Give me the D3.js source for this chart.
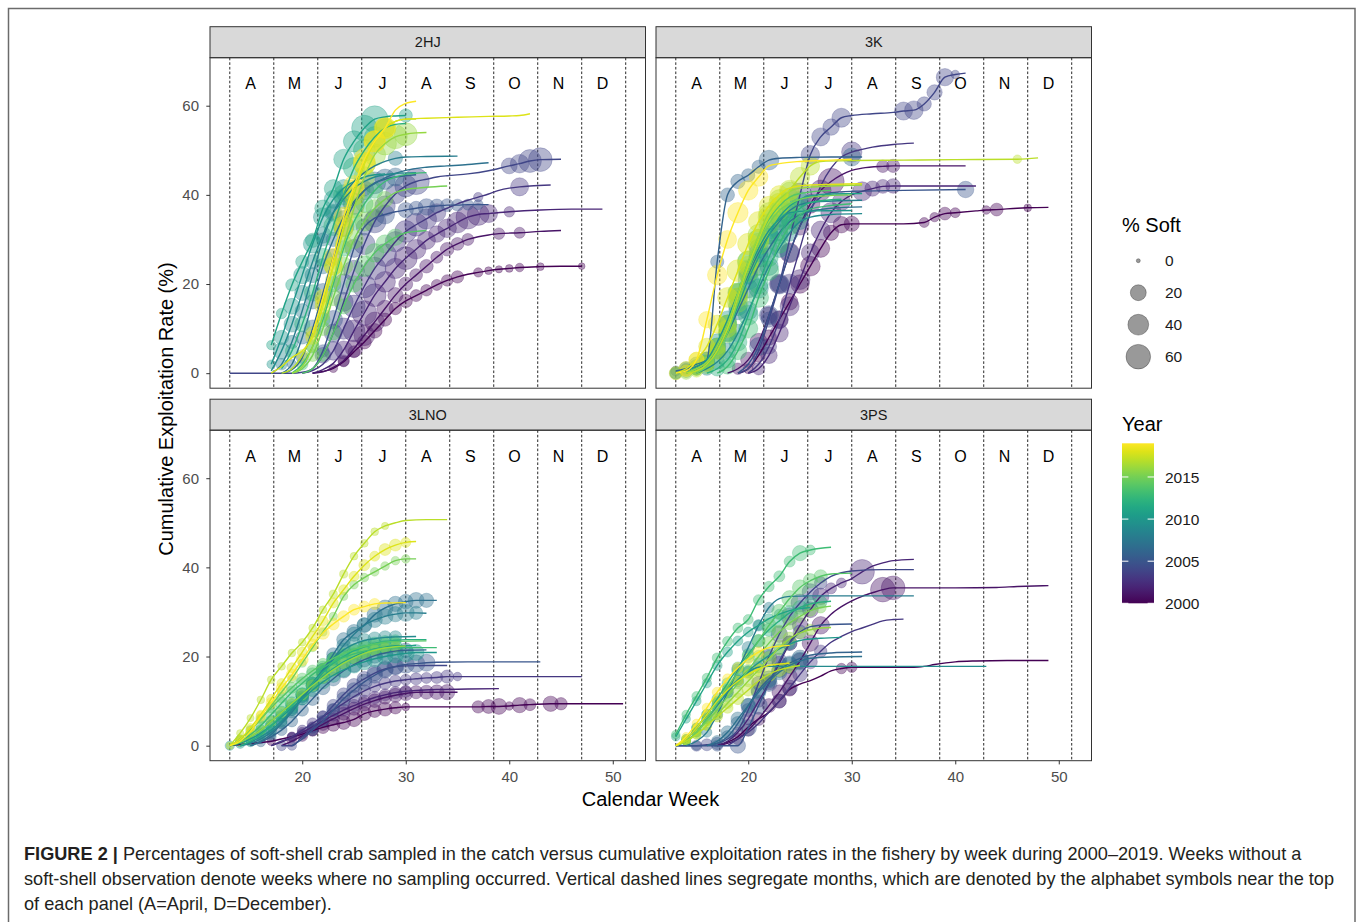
<!DOCTYPE html>
<html>
<head>
<meta charset="utf-8">
<script src="https://cdn.jsdelivr.net/npm/d3@7"></script>
<style>
body { margin: 0; background: #fff; }
svg { display: block; }
text { font-family: "Liberation Sans", Arial, Helvetica, sans-serif; }
</style>
</head>
<body>
<div id="chart"></div>
<script>
// ---- data: [week, cumulative exploitation %, % soft (null = not sampled)] ----
var panels = ["2HJ", "3K", "3LNO", "3PS"];
var years = [2000, 2001, 2002, 2003, 2004, 2005, 2006, 2007, 2008, 2009,
             2010, 2011, 2012, 2013, 2014, 2015, 2016, 2017, 2018, 2019];
var months = ["A", "M", "J", "J", "A", "S", "O", "N", "D"];
var monthBreaks = [13, 17.25, 21.5, 25.75, 30, 34.25, 38.5, 42.75, 47, 51.25];
var xTicks = [20, 30, 40, 50];
var yTicks = [0, 20, 40, 60];
var softBreaks = [0, 20, 40, 60];
var yearBreaks = [2000, 2005, 2010, 2015];

var data2HJ = [
  [[21,0,null],[22,0.4,null],[23,1.1,3],[24,2.6,6],[25,4.8,9],[26,7,14],[27,9.5,16],[28,12,12],[29,14.5,10],[30,16.2,12],[31,17.4,9],[32,18.6,8],[33,19.8,7],[34,20.8,8],[35,21.6,10],[36,22.2,null],[37,22.6,4],[38,23,2],[39,23.3,1.5],[40,23.5,2],[41,23.7,3],[43,23.9,2],[45,24,null],[47,24,1]],
  [[21,0,null],[22,0.3,null],[23,1.3,null],[24,2.8,8],[25,5.5,25],[26,8.5,40],[27,11.5,35],[28,14.5,22],[29,17.5,18],[30,20,14],[31,22,11],[32,24,13],[33,26,9],[34,27.8,13],[35,29,11],[36,30,9],[37,30.6,null],[38,31,null],[39,31.3,8],[41,31.5,7],[43,31.8,null],[45,32,null]],
  [[21,0,null],[22,0.8,null],[23,2.2,null],[24,5.2,28],[25,9.5,45],[26,13.5,60],[27,17.5,50],[28,20.5,40],[29,23.5,38],[30,25.8,50],[31,27.8,35],[32,29.8,28],[33,31.2,22],[34,32.5,30],[35,33.8,40],[36,35,55],[37,35.6,45],[38,35.8,28],[40,36.2,6],[43,36.6,null],[46,36.8,null],[49,36.8,null]],
  [[20,0,null],[21,0.6,null],[22,2,null],[23,5,30],[24,10,42],[25,15,48],[26,19.5,52],[27,23.5,48],[28,26.5,50],[29,29.5,38],[30,31.8,45],[31,33.3,50],[32,34.6,38],[33,36,28],[34,37,null],[35,38,null],[36,38.8,null],[37,39.5,4],[38,40.2,null],[39,41,null],[40,41.5,null],[41,41.8,28],[42,42,null],[44,42.2,null]],
  [[13,0,null],[15,0,null],[17,0,null],[19,0,null],[20,0.2,null],[21,1,null],[22,4,20],[23,9,28],[24,16,32],[25,23,40],[26,29,42],[27,34,48],[28,37.5,38],[29,40.2,35],[30,42,45],[31,43,70],[32,43.5,null],[33,44,null],[34,44.3,null],[36,44.7,null],[38,45.4,null],[40,46.5,20],[41,47,30],[42,47.6,50],[43,47.9,55],[45,48,null]],
  [[20,0,null],[21,1,null],[22,5,10],[23,12,30],[24,20,38],[25,28,28],[26,32.8,22],[27,34.8,28],[28,35.6,32],[29,36.2,null],[30,36.6,18],[31,37,14],[32,37.3,22],[33,37.5,14],[34,37.7,11],[35,37.7,9],[36,37.8,7],[37,37.8,5],[38,37.8,null]],
  [[18,0,null],[19,0.8,null],[20,3.5,9],[21,10,25],[22,18,32],[23,26,22],[24,33,40],[25,38,42],[26,41,32],[27,42.7,45],[28,43.5,38],[29,44,28],[30,44.3,null],[31,44.5,null]],
  [[18,0,null],[19,2,4],[20,8,12],[21,16,15],[22,24,18],[23,30,15],[24,35,12],[25,38.5,null],[26,41,8],[27,42.5,null],[28,43.8,null],[29,44.8,null],[30,45.5,null],[32,46.2,null],[34,46.5,null],[36,46.8,null],[38,47.2,null]],
  [[17,0,null],[18,2,8],[19,7,12],[20,14,15],[21,22,18],[22,30,12],[23,36,16],[24,40,12],[25,43,null],[26,45,null],[27,46.5,null],[28,47.5,null],[29,48.2,15],[30,48.5,null],[32,48.6,null],[35,48.7,null]],
  [[17,0.5,null],[18,5,22],[19,11,20],[20,18,18],[21,25,15],[22,31,22],[23,36,25],[24,39,30],[25,41.5,null],[26,43,null],[27,44,null],[28,44.5,null],[29,44.8,null],[31,45,null]],
  [[17,2,3],[18,8,15],[19,15,20],[20,22,25],[21,29,30],[22,35,32],[23,39,28],[24,41.5,25],[25,43,null],[26,44,null],[27,44.5,null],[28,44.7,null]],
  [[17,6.3,4],[18,13.4,6],[19,19.8,10],[20,25,12],[21,29.8,15],[22,37,22],[23,41.4,28],[24,48,36],[25,52,42],[26,55,65],[27,57,72],[28,57.5,null],[29,57.7,null],[30,57.8,12]],
  [[18,1,null],[19,5,12],[20,11,18],[21,18,22],[22,26,28],[23,33,32],[24,40,38],[25,46,42],[26,50,45],[27,53,40],[28,55,30],[29,55.8,null],[30,56,null]],
  [[19,0,null],[20,2,8],[21,6,12],[22,12,15],[23,20,18],[24,28,20],[25,34,22],[26,38,25],[27,41,20],[28,43,null],[29,44,null],[30,44.6,null],[32,45,null]],
  [[20,0,null],[21,1,null],[22,4,10],[23,9,14],[24,15,18],[25,20,22],[26,24,40],[27,27,30],[28,29,28],[29,30.5,22],[30,31.5,null],[31,31.8,null],[32,32,null]],
  [[19,0,null],[20,1,null],[21,4,10],[22,10,14],[23,17,22],[24,24,28],[25,30,30],[26,34,32],[27,37,25],[28,39,20],[29,40.5,null],[30,41.2,null],[32,41.7,null],[34,42,null]],
  [[19,0,null],[20,1.5,null],[21,6,8],[22,13,12],[23,21,18],[24,29,25],[25,37,35],[26,44,40],[27,49,45],[28,51.5,50],[29,53,55],[30,53.6,50],[31,53.9,null],[32,54,null]],
  [[18,0,null],[19,1,null],[20,4,8],[21,9,12],[22,16,18],[23,24,28],[24,32,30],[25,40,42],[26,47,48],[27,52,40],[28,55,35],[29,56.5,null],[30,57,null],[31,57,null]],
  [[17,0,null],[18,1.5,null],[19,3.5,null],[20,5,null],[21,8,14],[22,15,20],[23,24,28],[24,33,35],[25,41,42],[26,47,45],[27,52,40],[28,55,45],[29,56.5,null],[30,57,null],[32,57.2,null],[35,57.4,null],[38,57.6,null],[40,57.7,null],[41,57.8,null],[42,58.2,null]],
  [[21,9,null],[22,17,20],[23,26,28],[24,35,35],[25,42,40],[26,48,42],[27,52,45],[28,55,38],[29,59,null],[30,60.5,null],[31,61,null]]
];

var data3K = [
  [[19,0,null],[20,1,5],[21,4,12],[22,8,18],[23,12,25],[24,16,22],[25,20,30],[26,24,35],[27,28,28],[28,31.5,18],[29,33.3,22],[30,33.5,18],[31,33.5,null],[33,33.5,null],[35,33.5,null],[37,33.8,5],[38,35,4],[39,35.8,11],[40,36,5],[42,36.4,null],[43,36.6,3],[44,36.7,11],[46,37,null],[47,37.1,2],[49,37.2,null]],
  [[18,0,null],[19,1,8],[20,3,18],[21,7,25],[22,13,22],[23,20,30],[24,27,35],[25,33,28],[26,38,32],[27,41,40],[28,43,70],[29,44.5,null],[30,45.5,null],[31,46,null],[33,46.4,10],[34,46.5,12],[37,46.5,null],[41,46.5,null]],
  [[20,0,null],[21,1,10],[22,4,22],[23,9,28],[24,15,32],[25,21,36],[26,27,28],[27,32,32],[28,36,38],[29,38.5,28],[30,40,null],[31,40.8,32],[32,41.4,18],[33,41.9,14],[34,42,16],[38,42,null],[42,42,null]],
  [[20,0,null],[21,2,null],[22,6,18],[23,12,28],[24,20,35],[25,28,null],[26,36,null],[27,42,null],[28,46,null],[29,48.5,null],[30,49.6,38],[31,50.2,null],[32,50.7,null],[34,51.3,null],[36,51.6,null]],
  [[19,0,null],[20,1,null],[21,5,null],[22,12,18],[23,20,22],[24,30,null],[25,40,55],[26,49,30],[27,53,28],[28,55.2,22],[29,57.3,32],[30,57.8,null],[32,58.2,null],[34,58.5,null],[35,58.8,28],[36,59,30],[37,60.4,15],[38,63,18],[39,66.4,25],[40,67,3],[41,67.3,null]],
  [[19,0,null],[20,2,null],[21,6,28],[22,13,32],[23,20,36],[24,27,28],[25,33,null],[26,37,null],[27,39.5,null],[28,40.5,null],[30,40.8,null],[35,41,null],[41,41.2,22]],
  [[13,0.5,5],[14,1,7],[15,1.5,null],[16,3,null],[17,25,12],[18,40,14],[19,43,15],[20,44.4,12],[21,46.3,12],[22,47.8,35],[23,48.2,null],[25,48.4,null],[28,48.5,null],[30,48.5,28],[31,48.5,null]],
  [[14,0,null],[15,1,10],[16,2,14],[17,5,18],[18,9,22],[19,14,28],[20,19,32],[21,24,30],[22,28,26],[23,31.5,22],[24,34,18],[25,35.5,14],[26,36.3,null],[28,37,null],[31,37.3,null]],
  [[13,0,10],[14,1,14],[15,2,16],[16,3,20],[17,6,24],[18,11,28],[19,17,30],[20,22,28],[21,27,30],[22,31,26],[23,34,22],[24,36.5,18],[25,37.8,null],[27,38.5,null],[31,38.8,null]],
  [[15,0,null],[16,1,12],[17,2.5,16],[18,5,20],[19,9,26],[20,14,30],[21,19,34],[22,24,30],[23,28,28],[24,31.5,24],[25,34,20],[26,35,null],[28,35.6,null],[31,35.8,null]],
  [[13,0,8],[14,0.5,12],[15,1.5,14],[16,3,18],[17,7,22],[18,12,26],[19,18,30],[20,23,34],[21,28,30],[22,32,26],[23,34.5,20],[24,36,16],[26,36.4,null],[30,36.5,null]],
  [[14,0,null],[15,1,12],[16,2.5,16],[17,5,22],[18,9,26],[19,15,30],[20,21,38],[21,26,34],[22,31,30],[23,35,28],[24,37.5,24],[25,39,20],[26,39.8,null],[28,40.2,null],[31,40.3,null]],
  [[16,0,null],[17,1,16],[18,3,22],[19,7,28],[20,13,36],[21,20,34],[22,26,30],[23,31,28],[24,34.5,24],[25,37,20],[26,38.3,null],[29,39,null]],
  [[17,0,null],[18,1.5,18],[19,5,26],[20,10,32],[21,17,36],[22,23,34],[23,29,30],[24,33,28],[25,35.5,24],[26,36.8,null],[28,37.6,null],[30,38,null]],
  [[14,0,null],[15,1,10],[16,2.5,16],[17,6,22],[18,11,28],[19,18,36],[20,25,40],[21,30,38],[22,34.5,34],[23,37.5,30],[24,39.5,28],[25,40.3,null],[28,41,null]],
  [[15,0,null],[16,1.5,16],[17,4.5,22],[18,9,32],[19,16,40],[20,23,45],[21,29,42],[22,33.5,38],[23,36.5,34],[24,38,30],[25,39,null],[27,39.7,null],[30,40,null]],
  [[14,0,10],[15,1,12],[16,2.5,16],[17,6,22],[18,11,30],[19,18,36],[20,25,45],[21,31,42],[22,36,38],[23,39,34],[24,40.8,30],[25,41.5,null],[28,42,null],[31,42.2,null]],
  [[14,0,null],[15,0.5,10],[16,2,16],[17,5,22],[18,10,26],[19,17,32],[20,24,36],[21,30,40],[22,35,45],[23,38,42],[24,41,38],[25,44,34],[26,46.5,30],[27,47.5,null],[30,47.7,null],[35,47.8,null],[40,47.9,null],[46,48,3],[48,48.3,null]],
  [[13,0,12],[14,1,16],[15,3,18],[16,6,22],[17,11,28],[18,17,36],[19,23,45],[20,29,42],[21,34,38],[22,37.5,34],[23,40,30],[24,41.5,null],[26,42.2,null],[31,42.5,null]],
  [[13,0,null],[14,0.5,10],[15,3,18],[16,12,22],[17,22,34],[18,30,28],[19,36,38],[20,41,34],[21,44,30],[22,46.5,null],[23,47,null],[25,47.5,null],[28,47.8,null],[30,48,null]]
];

var data3LNO = [
  [[13,0,null],[15,0.5,null],[17,1,3],[18,1.5,null],[19,2,4],[20,2.6,6],[21,3.4,8],[22,4.1,10],[23,4.7,12],[24,5.2,14],[25,5.9,16],[26,7.2,14],[27,7.8,12],[28,8.2,14],[29,8.5,10],[30,8.7,2],[32,8.7,null],[35,8.7,null],[37,8.7,10],[38,8.8,14],[39,8.8,20],[40,8.9,3],[41,9.1,18],[42,9.2,9],[44,9.4,18],[45,9.4,10],[47,9.4,null],[51,9.4,null]],
  [[18,0,null],[19,1,5],[20,2.2,7],[21,3.5,8],[22,4.8,10],[23,6,10],[24,7.2,12],[25,8.3,12],[26,9.3,13],[27,10.1,13],[28,10.8,12],[29,11.3,14],[30,11.7,15],[31,12,12],[32,12,14],[33,12,16],[34,12,18],[35,12,null]],
  [[17,0,null],[18,0.8,null],[19,1.8,4],[20,3,5],[21,4.2,6],[22,5.5,7],[23,6.8,8],[24,8,9],[25,9,10],[26,10,9],[27,10.8,10],[28,11.4,9],[29,11.9,10],[30,12.2,9],[31,12.4,null],[33,12.6,null],[36,12.7,null],[39,12.8,null]],
  [[17,0,null],[18,1,null],[19,2,4],[20,3.5,5],[21,5,7],[22,6.5,8],[23,8,10],[24,9.5,10],[25,11,12],[26,12.3,10],[27,13.3,9],[28,14,10],[29,14.5,9],[30,14.8,7],[31,15,9],[32,15.2,7],[33,15.3,9],[34,15.5,12],[35,15.5,3],[40,15.5,null],[47,15.5,null]],
  [[18,0,5],[19,0,4],[20,2,null],[21,4,7],[22,6.5,9],[23,9,10],[24,11.5,12],[25,13.5,14],[26,15,16],[27,16.3,18],[28,17.2,20],[29,17.7,18],[30,17.9,null],[32,18,null],[34,18,null]],
  [[19,0,null],[20,1.5,null],[21,3.5,7],[22,5.5,8],[23,8,12],[24,10.5,14],[25,12.5,16],[26,14.3,18],[27,15.8,20],[28,17,22],[29,17.8,24],[30,18.2,25],[31,18.4,26],[32,18.6,24],[33,18.7,null],[36,18.8,null],[43,18.8,null]],
  [[15,0,null],[16,0.8,4],[17,2,5],[18,3.5,7],[19,5.5,8],[20,8,10],[21,10.5,12],[22,13,14],[23,15,15],[24,16.8,16],[25,18.2,18],[26,19.3,16],[27,20.2,18],[28,20.8,20],[29,21.2,18],[30,21.4,16],[32,21.5,null]],
  [[15,0,null],[16,1,null],[17,2.5,4],[18,5,5],[19,8,7],[20,11,8],[21,14,10],[22,17,12],[23,20.5,12],[24,23.8,14],[25,25.6,15],[26,27.1,16],[27,29.4,18],[28,30.9,20],[29,31.8,18],[30,32.3,16],[31,32.6,20],[32,32.6,15],[33,32.6,null]],
  [[14,0,null],[15,0.5,null],[16,1.5,4],[17,3,5],[18,5,7],[19,7.5,8],[20,10.5,10],[21,13.5,12],[22,16.5,12],[23,19.5,13],[24,22.5,13],[25,25,15],[26,27,16],[27,28.2,18],[28,29,20],[29,29.5,18],[30,29.8,24],[31,29.8,12],[32,29.7,null]],
  [[14,0,null],[15,0.8,4],[16,2,5],[17,3.5,6],[18,5.5,7],[19,8,8],[20,11,10],[21,14,10],[22,17,12],[23,19.5,12],[24,21.5,13],[25,22.8,14],[26,23.6,14],[27,24,13],[28,24.3,12],[29,24.4,10],[31,24.5,null]],
  [[13,0,4],[14,0.5,5],[15,1.5,6],[16,2.8,7],[17,4.5,8],[18,6.5,9],[19,8.5,10],[20,10.5,10],[21,12.5,12],[22,14.3,14],[23,15.8,15],[24,17,16],[25,18,18],[26,18.8,20],[27,19.5,22],[28,20,20],[29,20.4,22],[30,20.7,24],[31,20.9,20],[33,20.9,null]],
  [[13,0,null],[14,0.8,4],[15,2,5],[16,3.5,7],[17,5.5,8],[18,7.5,10],[19,9.5,12],[20,11.5,12],[21,13.5,13],[22,15.5,15],[23,17.3,16],[24,18.8,16],[25,20,18],[26,21,16],[27,21.7,15],[28,22.1,13],[29,22.4,12],[31,22.5,null]],
  [[14,0,null],[15,1,4],[16,2.5,5],[17,4.5,7],[18,6.8,8],[19,9,10],[20,11.5,12],[21,14,12],[22,16.5,13],[23,18.5,15],[24,20,15],[25,21.3,13],[26,22.2,12],[27,22.9,12],[28,23.3,10],[29,23.6,8],[30,23.8,null],[32,23.8,null]],
  [[13,0,null],[14,1,4],[15,2.5,5],[16,4.5,6],[17,7,8],[18,9.5,10],[19,12,10],[20,14,12],[21,16,12],[22,17.5,12],[23,18.8,12],[24,19.8,10],[25,20.6,10],[26,21.2,8],[27,21.6,8],[28,21.9,6],[30,22,null],[33,22,null]],
  [[13,0,null],[14,1.5,3],[15,3.5,4],[16,6,5],[17,8.5,6],[18,10.8,6],[19,13,7],[20,15,8],[21,16.8,8],[22,18.3,8],[23,19.6,8],[24,20.7,7],[25,21.6,6],[26,22.3,6],[27,22.8,5],[28,23.2,4],[29,23.4,4],[32,23.5,null]],
  [[13,0,null],[14,1.5,1.5],[15,3.5,1.5],[16,6,2],[17,9,2],[18,12,2.5],[19,15,2.5],[20,18.5,2.5],[21,22,2.5],[22,25.5,2.5],[23,29,2.5],[24,33.5,2.5],[25,36.1,3],[26,37.7,3],[27,39,3],[28,40.3,3],[29,41.5,3],[30,41.9,3],[31,41.9,null]],
  [[13,0,null],[14,0.8,2],[15,2,3],[16,3.5,4],[17,5.5,5],[18,7.5,6],[19,9.5,6],[20,11.5,7],[21,13.5,8],[22,15.3,8],[23,17,8],[24,18.5,8],[25,19.7,8],[26,20.7,8],[27,21.4,7],[28,21.9,6],[29,22.2,6],[30,22.4,null]],
  [[13,0,1.5],[14,2.8,1.5],[15,6.2,1.5],[16,10.3,2],[17,14.8,2],[18,17.8,2],[19,20.8,2],[20,23.2,2],[21,26.4,2],[22,30.5,2],[23,34,2.5],[24,38.5,2.5],[25,42.5,2],[26,45.4,2],[27,48,2],[28,49.3,1.5],[29,50,null],[30,50.5,null],[32,50.7,null],[34,50.7,null]],
  [[13,0,null],[14,1.5,2],[15,4,3],[16,7,3],[17,10.5,4],[18,14,4],[19,17.5,5],[20,21,5],[21,24.5,5],[22,28,5],[23,32,5],[24,35,5],[25,38,5],[26,40.5,7],[27,42.5,5],[28,44,9],[29,45,9],[30,45.6,5],[31,45.8,null]],
  [[13,0,null],[14,1,3],[15,3.2,4],[16,6.6,5],[17,9.6,6],[18,12.9,7],[19,15.9,8],[20,19.3,9],[21,22.6,9],[22,25.3,11],[23,27.3,9],[24,29,8],[25,30.5,7],[26,31.2,7],[27,31.8,7],[28,32,null],[30,32.1,null]]
];

var data3PS = [
  [[17,0,null],[18,0.8,null],[19,2,null],[20,4.2,null],[21,6,null],[22,7.5,null],[23,10,14],[24,12.6,12],[25,13.8,null],[26,14.6,null],[27,15.6,null],[28,16.8,null],[29,17.3,6],[30,17.6,6],[33,17.6,null],[36,17.6,null],[37,17.8,null],[38,18.2,null],[40,18.8,null],[42,19,null],[45,19.1,null],[49,19.1,null]],
  [[17,0,null],[18,0.5,null],[19,1.5,8],[20,3.5,10],[21,6,12],[22,9,14],[23,12,16],[24,15.5,18],[25,19,20],[26,23,22],[27,27,26],[28,29.5,null],[29,31.2,null],[30,32.5,null],[31,33.5,null],[32,34.3,null],[33,35,60],[34,35.4,55],[36,35.4,null],[40,35.4,null],[44,35.5,null],[46,35.7,null],[49,35.9,null]],
  [[17,0,null],[18,1,null],[19,3,7],[20,6,8],[21,10,10],[22,14,12],[23,18.5,14],[24,23,16],[25,27,18],[26,30.5,20],[27,33.5,22],[28,35.3,7],[29,36.5,5],[30,37.5,null],[31,39,60],[32,40.3,null],[33,41,null],[34,41.5,null],[36,41.8,null]],
  [[18,0,null],[19,1.5,null],[20,3,null],[21,5,null],[22,7.5,null],[23,10,14],[24,13,18],[25,16,16],[26,18.8,14],[27,21.2,10],[28,23.2,null],[29,24.5,null],[30,25.6,null],[31,26.4,null],[32,27.2,null],[33,28,null],[34,28.3,null],[35,28.4,null]],
  [[13,0,null],[15,0,7],[16,0.2,9],[17,0.5,10],[18,1.5,null],[19,3.5,null],[20,8,12],[21,14,14],[22,20,18],[23,25,22],[24,29,25],[25,32,28],[26,34.5,22],[27,36.5,10],[28,38,null],[29,38.8,null],[30,39.2,null],[33,39.5,null],[36,39.5,null]],
  [[13,0,null],[15,0,4],[17,0,7],[19,0,18],[20,4,22],[21,9,26],[22,14,22],[23,19,18],[24,23,16],[25,25.5,14],[26,26.7,null],[28,27.2,null],[30,27.3,null]],
  [[16,0,null],[17,0.5,null],[18,2,10],[19,5,14],[20,9,16],[21,12.5,18],[22,15,20],[23,17,18],[24,18.5,16],[25,19.6,22],[26,20.3,null],[28,20.8,null],[31,21,null]],
  [[16,0,null],[17,1,8],[18,3,12],[19,6,14],[20,9,14],[21,12,16],[22,14.5,16],[23,16.5,18],[24,18,22],[25,19,28],[26,19.6,null],[28,19.9,null],[31,20,null]],
  [[14,0,null],[15,1,null],[16,3,5],[17,7,7],[18,12,8],[19,17,10],[20,22,10],[21,27,8],[22,31,6],[23,33,null],[24,33.5,null],[26,33.6,null],[30,33.6,null],[36,33.6,null]],
  [[13,0,null],[14,1,4],[15,3,5],[16,6,6],[17,9,7],[18,12,8],[19,14.5,8],[20,16.5,8],[21,17.6,8],[22,17.8,null],[30,17.8,null],[43,17.8,null]],
  [[13,0,null],[14,1.5,3],[15,4,4],[16,7,5],[17,10,5],[18,12.5,6],[19,14.8,6],[20,16.8,6],[21,18.6,6],[22,20.2,6],[23,21.7,6],[24,22.8,6],[25,23.6,null],[27,24.1,null],[29,24.3,null]],
  [[13,2,3],[14,6,3],[15,10,4],[16,14,4],[17,18,5],[18,21,5],[19,23.5,5],[20,25.5,5],[21,27,5],[22,28.5,5],[23,29.5,5],[24,30.3,null],[26,31,null]],
  [[13,0,null],[14,1.5,4],[15,4,5],[16,7,6],[17,10.5,6],[18,14,7],[19,17.5,8],[20,20.5,8],[21,23.5,10],[22,26,12],[23,28,14],[24,29.8,16],[25,31,14],[26,31.8,12],[27,32.2,10],[28,32.4,null]],
  [[13,2.5,3],[14,7,3],[15,11.1,4],[16,15.2,4],[17,19.7,5],[18,23.4,5],[19,26.4,5],[20,28.3,5],[21,32.7,6],[22,35.7,6],[23,38,7],[24,41.3,7],[25,43.2,18],[26,43.9,5],[27,44.3,null],[28,44.5,null]],
  [[13,0,null],[14,1,3],[15,3,4],[16,6,5],[17,9.5,6],[18,13,7],[19,16.5,8],[20,20,10],[21,23.5,12],[22,27,15],[23,30,18],[24,33,20],[25,35.5,18],[26,37,15],[27,38,12],[28,38.5,null],[30,38.7,null]],
  [[13,0,null],[14,1,3],[15,3,4],[16,5.5,5],[17,8,5],[18,11,6],[19,14,7],[20,17,8],[21,20,10],[22,23,12],[23,25.5,14],[24,27.5,12],[25,29,10],[26,30.3,8],[27,31,7],[28,31.3,null]],
  [[13,0,null],[14,1,3],[15,2.5,4],[16,4.5,4],[17,7,5],[18,9.5,6],[19,12,7],[20,14.5,8],[21,17,12],[22,19.5,15],[23,22,18],[24,24,12],[25,25.3,8],[26,26,7],[27,26.4,null],[28,26.5,null]],
  [[13,0,null],[14,1,3],[15,2.5,4],[16,4.5,5],[17,6.5,6],[18,8.5,7],[19,10.5,8],[20,12.5,10],[21,14.5,12],[22,16,15],[23,17,12],[24,17.6,8],[25,18,null]],
  [[13,0,null],[14,1.5,3],[15,4,3],[16,7,4],[17,10,4],[18,12.5,5],[19,14.5,5],[20,16,5],[21,17.2,5],[22,18,null],[24,18.5,null]],
  [[13,0,null],[14,2,3],[15,5,3],[16,8.5,4],[17,12,5],[18,15,5],[19,17.5,6],[20,19.5,6],[21,21,6],[22,22,null],[24,22.5,null]]
];

var panelData = [data2HJ, data3K, data3LNO, data3PS];

// ---- layout ----
var W = 1358, H = 922;
var colX = [210, 656], rowY = [57.7, 430.2];
var pw = 435.5, ph = 330.5, stripH = 31;

var svg = d3.select("#chart").append("svg")
    .attr("width", W)
    .attr("height", H);

// outer frame of the figure
svg.append("rect")
    .attr("x", 8.5).attr("y", 8.5)
    .attr("width", 1346.5).attr("height", 940)
    .attr("fill", "none")
    .attr("stroke", "#6b6b6b")
    .attr("stroke-width", 1.5);

var x = d3.scaleLinear().domain([11.0875, 53.1625]).range([0, pw]);
var y = d3.scaleLinear().domain([-3.37, 70.77]).range([ph, 0]);
var size = d3.scaleSqrt().domain([0, 60]).range([2, 12.3]);
var colour = function (yr) { return d3.interpolateViridis((yr - 2000) / 19); };

var line = d3.line()
    .x(function (d) { return x(d[0]); })
    .y(function (d) { return y(d[1]); })
    .curve(d3.curveMonotoneX);

panels.forEach(function (name, i) {
    var col = i % 2, row = Math.floor(i / 2);
    var g = svg.append("g")
        .attr("transform", "translate(" + colX[col] + "," + rowY[row] + ")");

    // strip
    g.append("rect")
        .attr("x", 0).attr("y", -stripH)
        .attr("width", pw).attr("height", stripH)
        .attr("fill", "#d9d9d9")
        .attr("stroke", "#333")
        .attr("stroke-width", 1);
    g.append("text")
        .attr("x", pw / 2).attr("y", -stripH / 2)
        .attr("dy", "0.35em")
        .attr("text-anchor", "middle")
        .attr("fill", "#1a1a1a")
        .style("font-size", "14.5px")
        .text(name);

    // month separators and letters
    g.selectAll("line.month")
        .data(monthBreaks)
        .enter()
        .append("line")
        .attr("x1", function (d) { return x(d); })
        .attr("x2", function (d) { return x(d); })
        .attr("y1", 0).attr("y2", ph)
        .attr("stroke", "#000")
        .attr("stroke-width", 0.85)
        .attr("stroke-dasharray", "2.6,2");

    g.selectAll("text.month")
        .data(months)
        .enter()
        .append("text")
        .attr("x", function (d, k) { return x(monthBreaks[k] + 2); })
        .attr("y", y(65))
        .attr("dy", "0.36em")
        .attr("text-anchor", "middle")
        .attr("fill", "#000")
        .style("font-size", "16px")
        .text(function (d) { return d; });

    var series = panelData[i];

    // points (% soft), only weeks that were sampled
    var pts = [];
    series.forEach(function (s, k) {
        s.forEach(function (p) {
            if (p[2] !== null) pts.push({ w: p[0], c: p[1], s: p[2], yr: years[k] });
        });
    });
    g.append("g").selectAll("circle")
        .data(pts)
        .enter()
        .append("circle")
        .attr("cx", function (d) { return x(d.w); })
        .attr("cy", function (d) { return y(d.c); })
        .attr("r", function (d) { return size(d.s); })
        .attr("fill", function (d) { return colour(d.yr); })
        .attr("fill-opacity", 0.4)
        .attr("stroke", function (d) { return colour(d.yr); })
        .attr("stroke-opacity", 0.4)
        .attr("stroke-width", 0.7);

    // cumulative exploitation lines
    g.append("g").selectAll("path")
        .data(series)
        .enter()
        .append("path")
        .attr("d", line)
        .attr("fill", "none")
        .attr("stroke", function (d, k) { return colour(years[k]); })
        .attr("stroke-width", 1.4);

    // panel border
    g.append("rect")
        .attr("width", pw).attr("height", ph)
        .attr("fill", "none")
        .attr("stroke", "#333")
        .attr("stroke-width", 1);

    // axes
    if (col === 0) {
        var ay = g.append("g")
            .call(d3.axisLeft(y).tickValues(yTicks).tickSize(3.7).tickPadding(7.3));
        ay.select(".domain").remove();
        ay.selectAll("line").attr("stroke", "#333");
        ay.selectAll("text").attr("fill", "#4d4d4d").style("font-size", "15px")
            .style("font-family", "'Liberation Sans', Arial, sans-serif");
    }
    if (row === 1) {
        var ax = g.append("g")
            .attr("transform", "translate(0," + ph + ")")
            .call(d3.axisBottom(x).tickValues(xTicks).tickSize(3.7).tickPadding(7));
        ax.select(".domain").remove();
        ax.selectAll("line").attr("stroke", "#333");
        ax.selectAll("text").attr("fill", "#4d4d4d").style("font-size", "15px")
            .style("font-family", "'Liberation Sans', Arial, sans-serif");
    }
});

// axis titles
svg.append("text")
    .attr("transform", "translate(173,409) rotate(-90)")
    .attr("text-anchor", "middle")
    .attr("fill", "#000")
    .style("font-size", "20px")
    .text("Cumulative Exploitation Rate (%)");

svg.append("text")
    .attr("x", 650.5).attr("y", 806)
    .attr("text-anchor", "middle")
    .attr("fill", "#000")
    .style("font-size", "20px")
    .text("Calendar Week");

// size legend
svg.append("text")
    .attr("x", 1122).attr("y", 232)
    .attr("fill", "#000")
    .style("font-size", "20px")
    .text("% Soft");

var sizeY = [260.7, 292.7, 324.7, 356.7];
svg.selectAll("circle.leg")
    .data(softBreaks)
    .enter()
    .append("circle")
    .attr("cx", 1138.3)
    .attr("cy", function (d, k) { return sizeY[k]; })
    .attr("r", function (d) { return size(d); })
    .attr("fill", "#000").attr("fill-opacity", 0.4)
    .attr("stroke", "#000").attr("stroke-opacity", 0.4)
    .attr("stroke-width", 0.7);

svg.selectAll("text.leg")
    .data(softBreaks)
    .enter()
    .append("text")
    .attr("x", 1165)
    .attr("y", function (d, k) { return sizeY[k]; })
    .attr("dy", "0.36em")
    .attr("fill", "#1a1a1a")
    .style("font-size", "15.5px")
    .text(function (d) { return d; });

// colour bar
svg.append("text")
    .attr("x", 1122).attr("y", 431)
    .attr("fill", "#000")
    .style("font-size", "20px")
    .text("Year");

var yb = d3.scaleLinear().domain([2000, 2019]).range([603.3, 443.3]);
var grad = svg.append("defs").append("linearGradient")
    .attr("id", "viridis")
    .attr("x1", 0).attr("y1", 1).attr("x2", 0).attr("y2", 0);
grad.selectAll("stop")
    .data(d3.range(0, 1.0001, 0.05))
    .enter()
    .append("stop")
    .attr("offset", function (d) { return d; })
    .attr("stop-color", function (d) { return d3.interpolateViridis(d); });

svg.append("rect")
    .attr("x", 1122).attr("y", 443.3)
    .attr("width", 32).attr("height", 160)
    .attr("fill", "url(#viridis)");

yearBreaks.forEach(function (yr) {
    [[1122, 1128.4], [1147.6, 1154]].forEach(function (seg) {
        svg.append("line")
            .attr("x1", seg[0]).attr("x2", seg[1])
            .attr("y1", yb(yr)).attr("y2", yb(yr))
            .attr("stroke", "#fff")
            .attr("stroke-width", 1);
    });
});

svg.selectAll("text.yr")
    .data(yearBreaks)
    .enter()
    .append("text")
    .attr("x", 1165)
    .attr("y", function (d) { return yb(d); })
    .attr("dy", "0.36em")
    .attr("fill", "#1a1a1a")
    .style("font-size", "15.5px")
    .text(function (d) { return d; });

// caption
var captionLines = [
    " Percentages of soft-shell crab sampled in the catch versus cumulative exploitation rates in the fishery by week during 2000\u20132019. Weeks without a",
    "soft-shell observation denote weeks where no sampling occurred. Vertical dashed lines segregate months, which are denoted by the alphabet symbols near the top",
    "of each panel (A=April, D=December)."
];
var capY = [860, 885, 910];
var cap = svg.append("g").attr("fill", "#231f20");
var caps = captionLines.map(function (t, k) {
    var tx = cap.append("text")
        .attr("x", 24).attr("y", capY[k])
        .style("font-size", "16px");
    if (k === 0) {
        tx.append("tspan").style("font-weight", "bold").text("FIGURE 2 |");
    }
    tx.append("tspan").text(t);
    return tx;
});
// fit caption to the measured width of its first line
var len0 = caps[0].node().getComputedTextLength();
var fs = 16 * 1278 / len0;
caps.forEach(function (tx) { tx.style("font-size", fs + "px"); });
</script>
</body>
</html>
